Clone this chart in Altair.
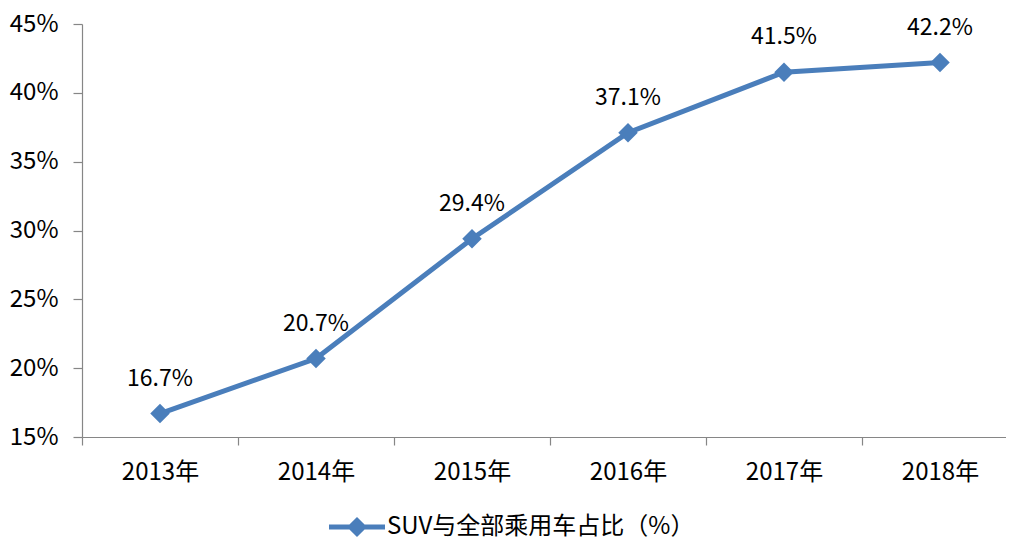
import altair as alt
import pandas as pd

years = ["2013年", "2014年", "2015年", "2016年", "2017年", "2018年"]
values = [16.7, 20.7, 29.4, 37.1, 41.5, 42.2]
series_name = "SUV与全部乘用车占比（%）"
y_ticks = [15, 20, 25, 30, 35, 40, 45]

df = pd.DataFrame({
    "year": years,
    "value": values,
    "label": [f"{v:.1f}%" for v in values],
    "series": [series_name] * len(years),
})

FONT = "Noto Sans CJK SC"
BLUE = "#4a7ebb"
AXIS_GRAY = "#868686"

legend_symbol = ("M-1,-0.09L-0.27,-0.09L0,-0.36L0.27,-0.09L1,-0.09L1,0.09"
                 "L0.27,0.09L0,0.36L-0.27,0.09L-1,0.09Z")

x = alt.X("year:N", sort=years, title=None,
          scale=alt.Scale(type="band", range=[0, 936], paddingInner=0, paddingOuter=0),
          axis=alt.Axis(labelAngle=0, tickBand="extent", labelFontSize=24,
                        labelPadding=15, tickSize=8, labelColor="black",
                        domainColor=AXIS_GRAY, tickColor=AXIS_GRAY))
y = alt.Y("value:Q", title=None,
          scale=alt.Scale(domain=[15, 45], nice=False, zero=False),
          axis=alt.Axis(values=y_ticks, labelExpr="datum.value + '%'",
                        labelFontSize=24, labelPadding=15, tickSize=9,
                        grid=False, labelColor="black",
                        domainColor=AXIS_GRAY, tickColor=AXIS_GRAY))

color = alt.Color("series:N", scale=alt.Scale(range=[BLUE]), title=None,
                  legend=alt.Legend(orient="none", legendX=247, legendY=475,
                                    symbolType=legend_symbol, symbolSize=3136,
                                    symbolStrokeWidth=0, symbolFillColor=BLUE,
                                    symbolOpacity=1,
                                    labelFontSize=24, labelLimit=600,
                                    labelColor="black", labelOffset=2,
                                    padding=0))

line = alt.Chart(df).mark_line(strokeWidth=5).encode(x=x, y=y, color=color)
points = alt.Chart(df).mark_point(shape="diamond", size=380, filled=True,
                                  opacity=1, color=BLUE).encode(x=x, y=y)
labels = alt.Chart(df).mark_text(dy=-35, fontSize=23, color="black",
                                 baseline="middle").encode(x=x, y=y, text="label:N")

chart = (line + points + labels).properties(
    width=924, height=413,
    autosize=alt.AutoSizeParams(type="none"),
    padding={"left": 74, "top": 16, "right": 0, "bottom": 103},
).configure(font=FONT).configure_view(stroke=None).configure_axis(
    labelFont=FONT, domainWidth=1.2, tickWidth=1.2
).configure_legend(labelFont=FONT)

chart.save("out.html", embed_options={"renderer": "svg", "actions": False})
